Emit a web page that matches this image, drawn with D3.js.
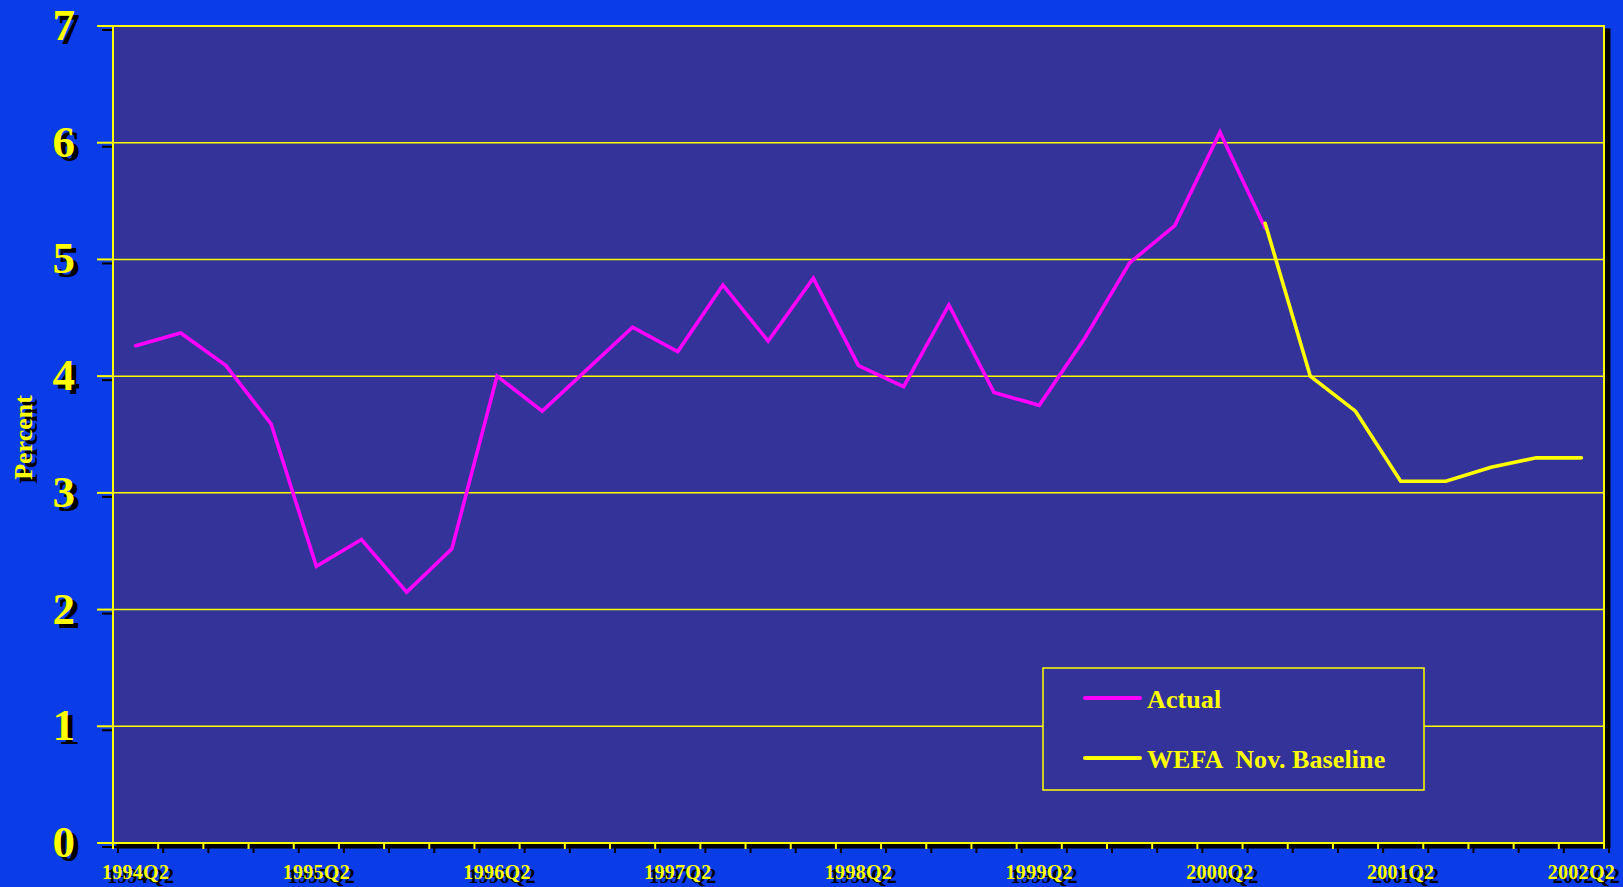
<!DOCTYPE html>
<html>
<head>
<meta charset="utf-8">
<script src="https://cdn.jsdelivr.net/npm/d3@7"></script>
<style>
  html, body { margin: 0; padding: 0; background: #0a3de8; overflow: hidden; }
  svg { display: block; }
  text { font-family: "Liberation Serif", "Times New Roman", serif; font-weight: bold; }
</style>
</head>
<body>
<svg id="chart" width="1623" height="887"></svg>
<script>
// ---- data ----
const categories = [
  "1994Q2","1994Q3","1994Q4",
  "1995Q1","1995Q2","1995Q3","1995Q4",
  "1996Q1","1996Q2","1996Q3","1996Q4",
  "1997Q1","1997Q2","1997Q3","1997Q4",
  "1998Q1","1998Q2","1998Q3","1998Q4",
  "1999Q1","1999Q2","1999Q3","1999Q4",
  "2000Q1","2000Q2","2000Q3","2000Q4",
  "2001Q1","2001Q2","2001Q3","2001Q4",
  "2002Q1","2002Q2"
];
// Actual: 1994Q2 .. 2000Q3
const actualValues = [4.26,4.37,4.09,3.59,2.37,2.60,2.15,2.52,4.00,3.70,4.06,4.42,4.21,4.78,4.30,4.84,4.09,3.91,4.61,3.86,3.75,4.32,4.97,5.29,6.09,5.27];
// WEFA Nov. Baseline: 2000Q3 .. 2002Q2
const forecastStart = "2000Q3";
const forecastValues = [5.31,4.00,3.70,3.10,3.10,3.22,3.30,3.30];
const yTicks = [0,1,2,3,4,5,6,7];
const xLabelEvery = 4;
const seriesNames = ["Actual", "WEFA  Nov. Baseline"];
const yTitle = "Percent";

// ---- layout ----
const C = { bg:"#0a3de8", plot:"#333399", yellow:"#ffff00", magenta:"#ff00ff", shadow:"#000000" };
const pL = 113, pR = 1604, pT = 26, pB = 843;
const sh = { dx: 5, dy: 4 };

const svg = d3.select("#chart");
svg.append("rect").attr("width",1623).attr("height",887).attr("fill",C.bg);

const x = d3.scaleBand().domain(categories).range([pL, pR]).padding(0);
const y = d3.scaleLinear().domain([0, 7]).range([pB, pT]);
const bw = x.bandwidth();
const cx = c => x(c) + bw / 2;

const actualData = actualValues.map((v,i) => ({c: categories[i], v}));
const fIdx = categories.indexOf(forecastStart);
const forecastData = forecastValues.map((v,i) => ({c: categories[fIdx + i], v}));

const boundaries = categories.map(c => x(c)).concat([pR]);

function drawAxes(g, color, mode) {
  g.append("rect").attr("x",pL).attr("y",pT).attr("width",pR-pL).attr("height",pB-pT)
    .attr("fill", mode === "shadow" ? color : "none")
    .attr("stroke", color).attr("stroke-width", mode === "shadow" ? 3 : 2);
  g.selectAll(".yt").data(yTicks).join("line")
    .attr("x1", pL - 16).attr("x2", pL)
    .attr("y1", d => y(d)).attr("y2", d => y(d))
    .attr("stroke", color).attr("stroke-width", 2);
  g.selectAll(".xt").data(boundaries).join("line")
    .attr("x1", d => d).attr("x2", d => d)
    .attr("y1", pB).attr("y2", pB + 6)
    .attr("stroke", color).attr("stroke-width", 2);
  g.selectAll(".yl").data(yTicks).join("text")
    .attr("x", 75).attr("y", d => y(d) + 14)
    .attr("text-anchor","end").attr("font-size", 45).attr("fill", color)
    .text(d => d);
  g.selectAll(".xl").data(categories.filter((c,i) => i % xLabelEvery === 0)).join("text")
    .attr("x", d => cx(d)).attr("y", 879)
    .attr("text-anchor","middle").attr("font-size", 20).attr("fill", color)
    .attr("letter-spacing", "0.3")
    .text(d => d);
  g.append("text")
    .attr("transform", "translate(32," + ((pT + pB) / 2 + 3) + ") rotate(-90)")
    .attr("text-anchor","middle").attr("font-size", 26).attr("fill", color)
    .text(yTitle);
}

const shadowG = svg.append("g").attr("transform", `translate(${sh.dx},${sh.dy})`);
drawAxes(shadowG, C.shadow, "shadow");

svg.append("rect").attr("x",pL).attr("y",pT).attr("width",pR-pL).attr("height",pB-pT)
  .attr("fill", C.plot);

svg.append("g").selectAll("line").data(yTicks.filter(d => d > 0 && d < 7)).join("line")
  .attr("x1", pL).attr("x2", pR)
  .attr("y1", d => y(d)).attr("y2", d => y(d))
  .attr("stroke", C.yellow).attr("stroke-width", 1.5);

const axG = svg.append("g");
drawAxes(axG, C.yellow, "main");

const line = d3.line().x(d => cx(d.c)).y(d => y(d.v)).curve(d3.curveLinear);
svg.append("path").datum(actualData).attr("d", line)
  .attr("fill","none").attr("stroke", C.magenta).attr("stroke-width", 3.6)
  .attr("stroke-linejoin","miter").attr("stroke-linecap","round");
svg.append("path").datum(forecastData).attr("d", line)
  .attr("fill","none").attr("stroke", C.yellow).attr("stroke-width", 3.6)
  .attr("stroke-linejoin","miter").attr("stroke-linecap","round");

const lg = svg.append("g");
lg.append("rect").attr("x",1043).attr("y",668).attr("width",381).attr("height",122)
  .attr("fill", C.plot).attr("stroke", C.yellow).attr("stroke-width", 1.5);
const legendItems = [
  { name: seriesNames[0], color: C.magenta, ly: 698 },
  { name: seriesNames[1], color: C.yellow, ly: 758 }
];
legendItems.forEach(it => {
  lg.append("line").attr("x1",1085).attr("x2",1140).attr("y1",it.ly).attr("y2",it.ly)
    .attr("stroke", it.color).attr("stroke-width", 4).attr("stroke-linecap","round");
  lg.append("text").attr("x",1147).attr("y",it.ly + 10)
    .attr("font-size", 26).attr("fill", C.yellow).attr("letter-spacing","0.1")
    .style("white-space","pre")
    .text(it.name);
});
</script>
</body>
</html>
